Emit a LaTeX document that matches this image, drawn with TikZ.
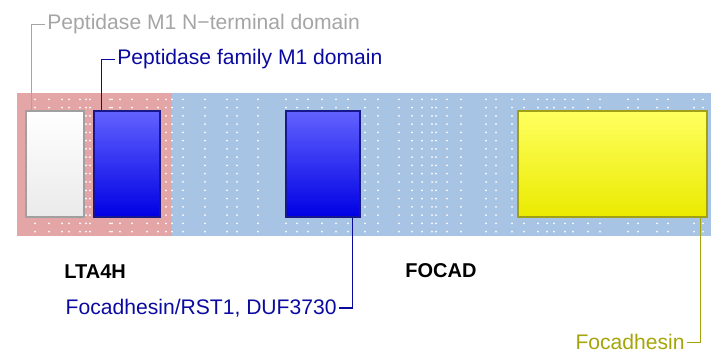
\documentclass[tikz,border=0pt]{standalone}
\usepackage{fontspec}
\setmainfont{Liberation Sans}
\usetikzlibrary{positioning}
\definecolor{bandA}{RGB}{228,165,166}
\definecolor{bandB}{RGB}{168,196,228}
\definecolor{edgeW}{RGB}{160,160,160}
\definecolor{fillW}{RGB}{234,234,234}
\definecolor{topB}{RGB}{98,98,255}
\definecolor{botB}{RGB}{0,0,228}
\definecolor{edgeB}{RGB}{24,24,140}
\definecolor{topY}{RGB}{255,255,96}
\definecolor{botY}{RGB}{234,234,0}
\definecolor{edgeY}{RGB}{160,160,24}
\definecolor{txtGrey}{RGB}{165,165,165}
\definecolor{txtBlue}{RGB}{10,10,160}
\definecolor{txtOlive}{RGB}{165,165,10}
\tikzset{
  dombox/.style={draw, rectangle, line width=0.7pt, inner sep=0pt, minimum height=53pt},
  leader/.style={line width=0.75pt},
  domlabel/.style={font=\fontsize{10.55}{12}\selectfont},
  protlabel/.style={font=\fontsize{10}{12}\selectfont\bfseries}
}

\begin{document}
\begin{tikzpicture}[x=0.5pt, y=-0.5pt, every node/.style={inner sep=1pt}]
  \useasboundingbox (0,0) rectangle (719,358);
  % the two proteins as background bands
  \fill[bandA] (17,93) rectangle (172,236);
  \fill[bandB] (172,93) rectangle (711,236);
  % white dot columns over the bands
  \foreach \x in {35,49,62,69,80,86,90,110,112,120,132,147,158,166,
                  172,183,205,227,237,258,286,297,308,322,336,348,365,378,
                  399,412,422,432,436,447,461,486,496,512,524,538,547,554,
                  565,573,588,600,628,638,657,668,694,703}{
    \foreach \i in {0,...,16}{
      \fill[white] (\x,{99.3+8.27*\i}) circle (1);
    }
  }
  % domains
  \node[dombox, draw=edgeW, top color=white, bottom color=fillW, minimum width=29pt] (nterm) at (55,164) {};
  \node[dombox, draw=edgeB, top color=topB, bottom color=botB, minimum width=33pt] (pep) at (127,164) {};
  \node[dombox, draw=edgeB, top color=topB, bottom color=botB, minimum width=37pt] (duf) at (323,164) {};
  \node[dombox, draw=edgeY, top color=topY, bottom color=botY, minimum width=94.5pt] (foc) at (612.5,164) {};
  % domain labels and their leaders
  \node[domlabel, text=txtGrey, anchor=base west] (ntlab) at (45,30) {Peptidase M1 N\textminus terminal domain};
  \node[domlabel, text=txtBlue, anchor=base west] (peplab) at (115,65) {Peptidase family M1 domain};
  \node[domlabel, text=txtBlue, anchor=base east] (duflab) at (339,314.5) {Focadhesin/RST1, DUF3730};
  \node[domlabel, text=txtOlive, anchor=base east] (foclab) at (687,350) {Focadhesin};
  \draw[leader, draw=txtGrey] ([xshift=3pt]nterm.north west) |- (ntlab.west);
  \draw[leader, draw=txtBlue] ([xshift=4pt]pep.north west) |- (peplab.west);
  \draw[leader, draw=txtBlue] ([xshift=-4pt]duf.south east) |- (duflab.east);
  \draw[leader, draw=txtOlive] ([xshift=-3.5pt]foc.south east) |- (foclab.east);
  % protein names
  \node[protlabel, anchor=base west] (lta) at (62,279) {LTA4H};
  \node[protlabel, anchor=base west] (focad) at (403,278) {FOCAD};
\end{tikzpicture}
\end{document}
